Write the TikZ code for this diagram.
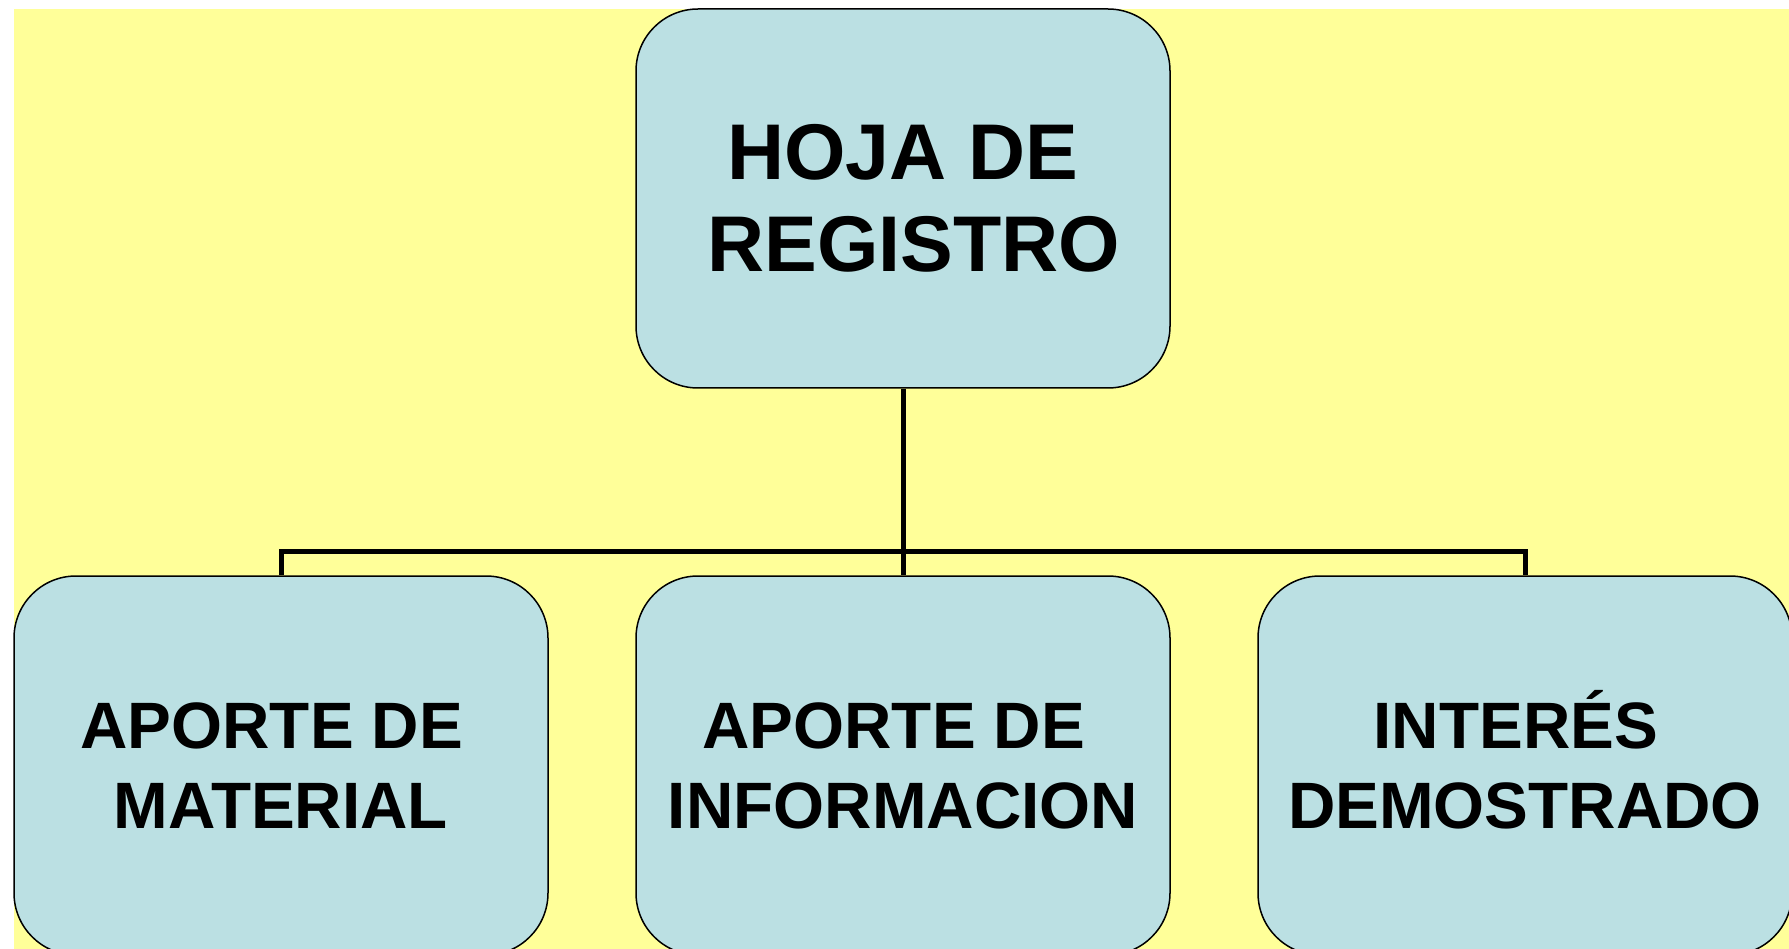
\documentclass[tikz,border=0pt]{standalone}
\usepackage{fontspec}
\setmainfont{Liberation Sans}
\definecolor{amarillo}{HTML}{FFFF99}
\definecolor{celeste}{HTML}{BBE0E3}
\tikzset{
  caja/.style={draw, line width=1.5pt, fill=celeste, rounded corners=62pt,
    minimum width=534pt, minimum height=379pt, inner sep=0pt, align=center},
  grande/.style={font=\fontsize{79}{92}\selectfont\bfseries},
  chica/.style={font=\fontsize{65.6}{80}\selectfont\bfseries},
  rama/.style={line width=5pt}
}
\begin{document}
\begin{tikzpicture}[x=1pt,y=-1pt]
   \useasboundingbox (0,0) rectangle (1789,949);
   \clip (0,0) rectangle (1789,949);
   % fondo
   \fill[amarillo] (14,9) rectangle (1789,949);

   % cajas
   \node [caja,grande] (hoja) at (903,198.5) {HOJA DE\\\kern.28em REGISTRO};
   \node [caja,chica] (material) at (281,765.5) {APORTE DE\kern.28em\\MATERIAL};
   \node [caja,chica] (info) at (903,765.5) {APORTE DE\kern.28em\\INFORMACION};
   \node [caja,chica] (interes) at (1525,765.5) {INTER\smash{É}S\kern.28em\\DEMOSTRADO};

   % ramas
   \coordinate (cruce) at (903,551.5);
   \draw [rama] (hoja) -- (cruce) -- (info);
   \draw [rama] (material) |- (cruce) -| (interes);
\end{tikzpicture}
\end{document}
